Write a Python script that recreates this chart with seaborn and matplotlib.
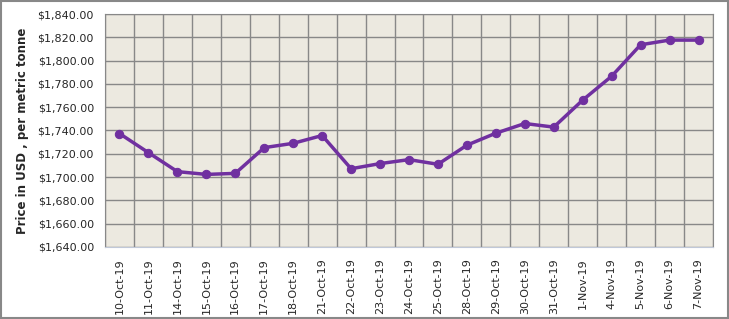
import numpy as np
import pandas as pd
import seaborn as sns
import matplotlib.pyplot as plt
from matplotlib.patches import Rectangle

dates = ['10-Oct-19', '11-Oct-19', '14-Oct-19', '15-Oct-19', '16-Oct-19', '17-Oct-19',
         '18-Oct-19', '21-Oct-19', '22-Oct-19', '23-Oct-19', '24-Oct-19', '25-Oct-19',
         '28-Oct-19', '29-Oct-19', '30-Oct-19', '31-Oct-19', '1-Nov-19', '4-Nov-19',
         '5-Nov-19', '6-Nov-19', '7-Nov-19']
prices = [1737.4, 1721.0, 1704.7, 1702.3, 1703.2, 1725.3, 1729.0, 1735.7, 1707.2,
          1711.6, 1715.0, 1711.0, 1727.4, 1737.7, 1746.0, 1742.9, 1766.1, 1786.6,
          1813.6, 1817.6, 1817.6]
yticks = list(range(1640, 1841, 20))

df = pd.DataFrame({'date': dates, 'price': prices, 'pos': range(len(dates))})

sns.set_style('white')
plt.rcParams['font.family'] = ['DejaVu Sans']

fig = plt.figure(figsize=(7.29, 3.19), dpi=100)
ax = fig.add_axes([105 / 729, 72 / 319, 608 / 729, 233 / 319])
ax.set_facecolor('#ECE9E0')

sns.lineplot(data=df, x='pos', y='price', ax=ax, color='#7030A0', linewidth=2.5,
             marker='o', markersize=6, markeredgecolor='#7030A0', zorder=3)

ax.set_xlim(-0.5, len(dates) - 0.5)
ax.set_ylim(1640, 1840)
ax.set_yticks(yticks)
ax.set_yticklabels(['${:,.2f}'.format(v) for v in yticks], fontsize=8)
ax.set_xticks(range(len(dates)))
ax.set_xticklabels(dates, rotation=90, fontsize=8)
ax.set_xticks(np.arange(-0.5, len(dates), 1), minor=True)
ax.grid(False)
ax.grid(True, which='minor', axis='x', color='#888888', linewidth=1)
ax.grid(True, which='major', axis='y', color='#888888', linewidth=1)
ax.tick_params(axis='both', which='both', length=0)
ax.tick_params(axis='y', pad=8)
ax.tick_params(axis='x', pad=8)
ax.set_xlabel('')
ax.set_ylabel('Price in USD , per metric tonne', fontsize=8.5, fontweight='bold', labelpad=6)
for side in ['top', 'right', 'left']:
    ax.spines[side].set_color('#888888')
ax.spines['bottom'].set_color('#C0C8D8')

fig.patches.append(Rectangle((0.001, 0.002), 0.997, 0.995, transform=fig.transFigure,
                             fill=False, edgecolor='#888888', linewidth=1.5))

fig.savefig('out.png', dpi=100)
